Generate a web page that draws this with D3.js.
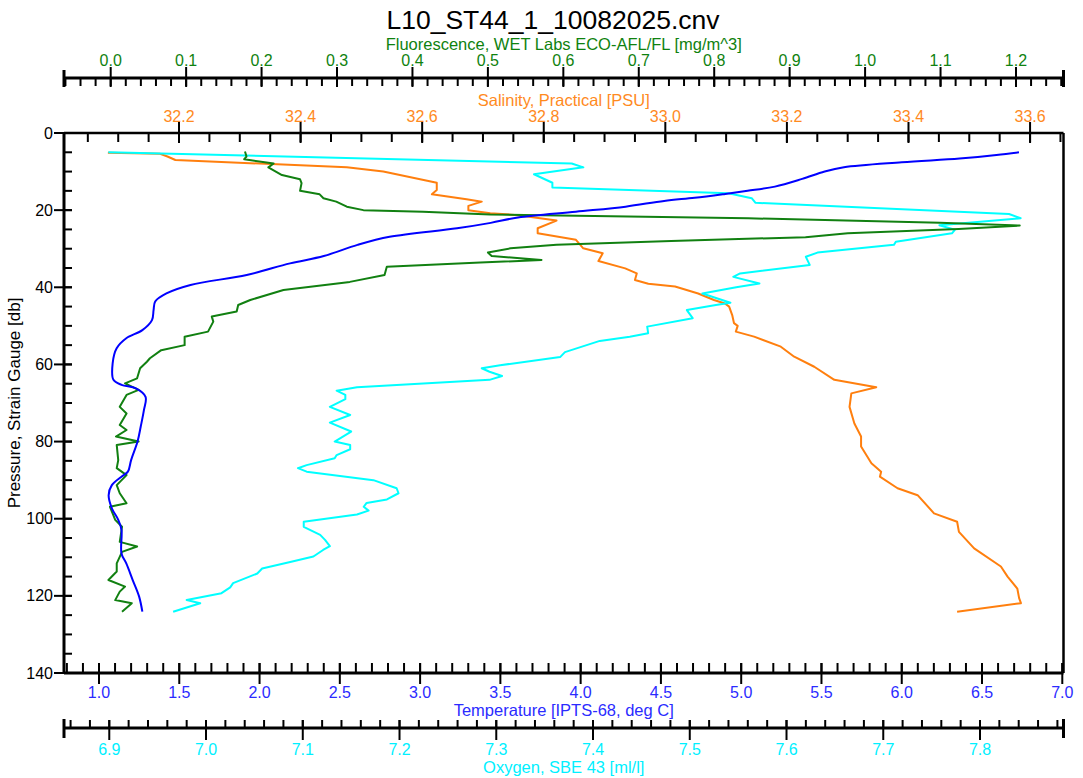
<!DOCTYPE html>
<html>
<head>
<meta charset="utf-8">
<script src="https://cdn.jsdelivr.net/npm/d3@7/dist/d3.min.js"></script>
<style>
  body { margin: 0; background: #fff; }
  svg { display: block; }
  text { font-family: "Liberation Sans", Arial, sans-serif; }
</style>
</head>
<body>
<svg id="chart" width="1083" height="778"></svg>
<script>
// CTD cast profiles: [pressure (db), value]
const temperature = [
  [5.0,6.73],[5.7,6.59],[6.6,6.36],[7.6,6.00],[8.9,5.64],[10.0,5.52],[11.9,5.38],[13.9,5.21],
  [15.0,5.04],[15.8,4.90],[16.8,4.71],[17.6,4.52],[19.1,4.28],[20.4,3.97],[21.9,3.61],[23.3,3.44],
  [24.7,3.23],[26.9,2.81],[29.0,2.61],[31.9,2.40],[33.8,2.19],[36.8,1.92],[39.4,1.57],[41.6,1.42],
  [43.7,1.35],[45.9,1.34],[48.5,1.33],[51.1,1.27],[53.2,1.17],[55.8,1.11],[59.7,1.085],[64.0,1.09],
  [65.3,1.14],[66.2,1.23],[68.4,1.29],[71.8,1.28],[76.1,1.26],[80.0,1.24],[84.8,1.20],[87.8,1.18],
  [89.1,1.14],[91.3,1.08],[93.9,1.06],[97.3,1.08],[100.3,1.12],[102.9,1.14],[109.0,1.14],[111.6,1.17],
  [115.9,1.21],[120.2,1.25],[124.1,1.27]
];

const fluorescence = [
  [4.8,0.178],[6.1,0.180],[6.8,0.177],[7.9,0.216],[8.9,0.209],[10.9,0.227],[12.0,0.251],[13.0,0.253],
  [15.0,0.251],[15.9,0.277],[16.9,0.282],[17.8,0.299],[19.1,0.313],[20.0,0.335],[20.4,0.414],[21.1,0.503],
  [22.1,0.845],[23.3,1.099],[23.9,1.195],[24.0,1.205],[24.9,1.124],[26.0,0.977],[27.0,0.921],[28.0,0.743],
  [29.0,0.591],[29.9,0.530],[31.0,0.500],[31.9,0.505],[32.9,0.571],[33.6,0.490],[34.7,0.366],[36.8,0.363],
  [38.6,0.317],[40.7,0.229],[43.3,0.185],[44.6,0.169],[46.3,0.167],[47.6,0.134],[48.9,0.136],[51.5,0.129],
  [52.8,0.098],[55.0,0.098],[56.3,0.067],[58.4,0.052],[59.3,0.048],[61.0,0.039],[63.6,0.035],[64.9,0.019],
  [66.6,0.037],[67.9,0.021],[71.0,0.012],[72.7,0.021],[75.7,0.012],[77.0,0.021],[78.7,0.007],[80.0,0.037],
  [80.9,0.008],[84.8,0.010],[86.9,0.008],[88.7,0.021],[91.3,0.008],[93.4,0.012],[96.0,0.021],[96.9,-0.001],
  [100.3,0.006],[102.1,0.015],[106.0,0.012],[107.2,0.035],[108.6,0.015],[111.6,0.008],[113.7,0.008],
  [115.9,-0.003],[117.6,0.019],[118.9,0.012],[121.1,0.006],[121.9,0.028],[124.1,0.015]
];

const salinity = [
  [5.1,32.083],[5.4,32.169],[6.1,32.181],[7.0,32.194],[8.9,32.476],[10.0,32.536],[12.9,32.624],[14.8,32.624],
  [15.9,32.616],[17.2,32.673],[17.8,32.698],[18.9,32.676],[20.0,32.676],[20.8,32.712],[21.3,32.758],
  [22.7,32.821],[24.7,32.790],[26.0,32.790],[27.7,32.853],[29.9,32.865],[31.2,32.897],[33.2,32.890],
  [35.1,32.934],[36.4,32.953],[38.1,32.950],[39.1,32.972],[39.8,33.016],[41.6,33.054],[43.3,33.080],
  [44.2,33.098],[45.0,33.105],[47.2,33.110],[49.3,33.113],[50.0,33.119],[51.5,33.116],[52.8,33.146],
  [55.4,33.190],[58.0,33.212],[60.6,33.245],[64.0,33.278],[65.9,33.347],[67.5,33.306],[71.0,33.303],
  [75.3,33.311],[78.7,33.322],[81.3,33.322],[85.6,33.339],[87.8,33.355],[89.1,33.353],[92.1,33.382],
  [93.9,33.415],[98.6,33.442],[100.8,33.480],[103.4,33.483],[107.7,33.508],[112.4,33.552],[115.0,33.563],
  [118.1,33.579],[120.6,33.582],[121.9,33.585],[124.1,33.480]
];

const oxygen = [
  [5.0,6.899],[7.4,7.293],[7.9,7.378],[8.9,7.390],[10.7,7.339],[12.9,7.358],[14.1,7.358],[15.6,7.540],
  [16.9,7.564],[18.1,7.568],[21.0,7.830],[22.1,7.842],[23.9,7.758],[25.1,7.774],[26.0,7.771],[28.2,7.713],
  [29.0,7.711],[31.0,7.632],[32.1,7.620],[34.2,7.624],[36.4,7.552],[37.3,7.545],[39.0,7.572],[40.0,7.548],
  [41.6,7.513],[44.0,7.542],[44.6,7.527],[45.9,7.497],[48.0,7.503],[50.2,7.456],[51.9,7.457],[52.8,7.438],
  [53.9,7.407],[56.8,7.371],[58.1,7.366],[60.2,7.304],[61.0,7.285],[61.9,7.293],[63.0,7.306],[64.0,7.293],
  [65.9,7.156],[66.8,7.135],[67.9,7.144],[69.0,7.144],[71.0,7.128],[73.1,7.149],[75.1,7.128],[77.4,7.150],
  [80.0,7.133],[80.9,7.149],[82.0,7.149],[83.5,7.135],[84.3,7.133],[86.1,7.104],[86.9,7.095],[87.8,7.104],
  [90.0,7.173],[92.1,7.197],[93.4,7.199],[95.0,7.187],[95.9,7.166],[96.9,7.163],[97.9,7.168],[98.9,7.156],
  [100.8,7.101],[102.1,7.101],[104.2,7.118],[105.5,7.123],[107.1,7.128],[108.1,7.121],[109.8,7.111],
  [111.2,7.087],[112.9,7.058],[114.2,7.053],[116.7,7.028],[117.8,7.025],[119.3,7.016],[121.1,6.980],
  [121.9,6.994],[124.1,6.966]
];

// Tick values and labels
const pressureTicks = [0, 20, 40, 60, 80, 100, 120, 140];
const fluorTicks = [0.0, 0.1, 0.2, 0.3, 0.4, 0.5, 0.6, 0.7, 0.8, 0.9, 1.0, 1.1, 1.2];
const salinityTicks = [32.2, 32.4, 32.6, 32.8, 33.0, 33.2, 33.4, 33.6];
const temperatureTicks = [1.0, 1.5, 2.0, 2.5, 3.0, 3.5, 4.0, 4.5, 5.0, 5.5, 6.0, 6.5, 7.0];
const oxygenTicks = [6.9, 7.0, 7.1, 7.2, 7.3, 7.4, 7.5, 7.6, 7.7, 7.8];

const titleText = "L10_ST44_1_10082025.cnv";
const axisTitles = {
  pressure: "Pressure, Strain Gauge [db]",
  fluorescence: "Fluorescence, WET Labs ECO-AFL/FL [mg/m^3]",
  salinity: "Salinity, Practical [PSU]",
  temperature: "Temperature [IPTS-68, deg C]",
  oxygen: "Oxygen, SBE 43 [ml/l]"
};

const colors = {
  temperature: "#0000ff", temperatureText: "#2b2bff",
  fluorescence: "#118011", fluorescenceText: "#0f820f",
  salinity: "#ff7f0e", salinityText: "#ff8a1e",
  oxygen: "#00ffff", oxygenText: "#00f0ff"
};

// ---- layout ----
const plot = { left: 64, right: 1063.5, top: 133, bottom: 673 };
const svg = d3.select("#chart");

const y = d3.scaleLinear().domain([0, 140]).range([plot.top, plot.bottom]);
const xTemp = d3.scaleLinear().domain([0.782, 7.0075]).range([plot.left, plot.right]);
const xFluor = d3.scaleLinear().domain([-0.0619, 1.263]).range([plot.left, plot.right]);
const xSal = d3.scaleLinear().domain([32.0108, 33.655]).range([plot.left, plot.right]);
const xOxy = d3.scaleLinear().domain([6.8532, 7.8863]).range([plot.left, plot.right]);

const minorTicks = (scale, step) => {
  const [a, b] = scale.domain();
  const out = [];
  for (let i = Math.ceil(a / step - 1e-9); i * step <= b + 1e-9; i++) out.push(+(i * step).toFixed(6));
  return out;
};

// horizontal axis with major ticks crossing the line and minor ticks on one side
function hAxis(opts) {
  const g = svg.append("g");
  g.append("line")
    .attr("x1", plot.left).attr("x2", plot.right)
    .attr("y1", opts.y).attr("y2", opts.y)
    .attr("stroke", "#000").attr("stroke-width", opts.lineWidth || 2.5);
  g.selectAll("line.minor").data(minorTicks(opts.scale, opts.minorStep)).join("line")
    .attr("class", "minor")
    .attr("x1", d => opts.scale(d)).attr("x2", d => opts.scale(d))
    .attr("y1", opts.y).attr("y2", opts.y + opts.minorLen)
    .attr("stroke", "#000").attr("stroke-width", 2);
  g.selectAll("line.major").data(opts.ticks).join("line")
    .attr("class", "major")
    .attr("x1", d => opts.scale(d)).attr("x2", d => opts.scale(d))
    .attr("y1", opts.y + opts.majorFrom).attr("y2", opts.y + opts.majorTo)
    .attr("stroke", "#000").attr("stroke-width", 2);
  if (opts.caps) {
    [plot.left, plot.right].forEach(x => {
      g.append("line").attr("x1", x).attr("x2", x)
        .attr("y1", opts.y + opts.caps[0]).attr("y2", opts.y + opts.caps[1])
        .attr("stroke", "#000").attr("stroke-width", 3);
    });
  }
  g.selectAll("text.tick").data(opts.ticks).join("text")
    .attr("class", "tick")
    .attr("x", d => opts.scale(d)).attr("y", opts.labelY)
    .attr("text-anchor", "middle")
    .attr("font-size", 16)
    .attr("fill", opts.color)
    .text(d => d.toFixed(1));
  g.append("text")
    .attr("x", (plot.left + plot.right) / 2).attr("y", opts.titleY)
    .attr("text-anchor", "middle")
    .attr("font-size", 16.5)
    .attr("fill", opts.color)
    .text(opts.title);
}

// ---- title ----
svg.append("text")
  .attr("x", 553).attr("y", 29)
  .attr("text-anchor", "middle")
  .attr("font-size", 26.5)
  .attr("fill", "#000")
  .text(titleText);

// ---- data lines (drawn before the frame so the frame stays crisp) ----
const series = [
  { data: salinity, x: xSal, color: colors.salinity, curve: d3.curveLinear },
  { data: oxygen, x: xOxy, color: colors.oxygen, curve: d3.curveLinear },
  { data: fluorescence, x: xFluor, color: colors.fluorescence, curve: d3.curveLinear },
  { data: temperature, x: xTemp, color: colors.temperature, curve: d3.curveCatmullRom.alpha(0.5) }
];
series.forEach(s => {
  const line = d3.line().x(d => s.x(d[1])).y(d => y(d[0])).curve(s.curve);
  svg.append("path")
    .datum(s.data)
    .attr("d", line)
    .attr("fill", "none")
    .attr("stroke", s.color)
    .attr("stroke-width", 2)
    .attr("stroke-linejoin", "round");
});

// ---- plot frame ----
svg.append("line").attr("x1", plot.left).attr("x2", plot.left)
  .attr("y1", plot.top).attr("y2", plot.bottom).attr("stroke", "#000").attr("stroke-width", 3);
svg.append("line").attr("x1", plot.right).attr("x2", plot.right)
  .attr("y1", plot.top).attr("y2", plot.bottom).attr("stroke", "#000").attr("stroke-width", 2.5);

// ---- axes ----
hAxis({ scale: xFluor, y: 78, ticks: fluorTicks, minorStep: 0.02, minorLen: 8,
  majorFrom: -11, majorTo: 9, caps: [-8, 9], labelY: 66, titleY: 50,
  color: colors.fluorescenceText, title: axisTitles.fluorescence, lineWidth: 3 });

hAxis({ scale: xSal, y: plot.top, ticks: salinityTicks, minorStep: 0.05, minorLen: 9,
  majorFrom: -11, majorTo: 10, labelY: 122, titleY: 106,
  color: colors.salinityText, title: axisTitles.salinity, lineWidth: 2.5 });

hAxis({ scale: xTemp, y: plot.bottom, ticks: temperatureTicks, minorStep: 0.1, minorLen: -10,
  majorFrom: -10, majorTo: 11, labelY: 698, titleY: 716,
  color: colors.temperatureText, title: axisTitles.temperature, lineWidth: 3 });

hAxis({ scale: xOxy, y: 728, ticks: oxygenTicks, minorStep: 0.02, minorLen: -8,
  majorFrom: -8, majorTo: 12, caps: [-9, 10], labelY: 755, titleY: 773,
  color: colors.oxygenText, title: axisTitles.oxygen, lineWidth: 3 });

// pressure axis (left)
const gy = svg.append("g");
gy.selectAll("line.minor").data(d3.range(0, 141, 5)).join("line")
  .attr("x1", plot.left).attr("x2", plot.left + 8)
  .attr("y1", d => y(d)).attr("y2", d => y(d))
  .attr("stroke", "#000").attr("stroke-width", 2);
gy.selectAll("line.major").data(pressureTicks).join("line")
  .attr("x1", plot.left - 10).attr("x2", plot.left + 8)
  .attr("y1", d => y(d)).attr("y2", d => y(d))
  .attr("stroke", "#000").attr("stroke-width", 2);
gy.selectAll("text").data(pressureTicks).join("text")
  .attr("x", plot.left - 11).attr("y", d => y(d))
  .attr("dy", "0.35em")
  .attr("text-anchor", "end")
  .attr("font-size", 16)
  .attr("fill", "#000")
  .text(d => d);
svg.append("text")
  .attr("transform", `translate(20,${(plot.top + plot.bottom) / 2}) rotate(-90)`)
  .attr("text-anchor", "middle")
  .attr("font-size", 17)
  .attr("fill", "#000")
  .text(axisTitles.pressure);
</script>
</body>
</html>
